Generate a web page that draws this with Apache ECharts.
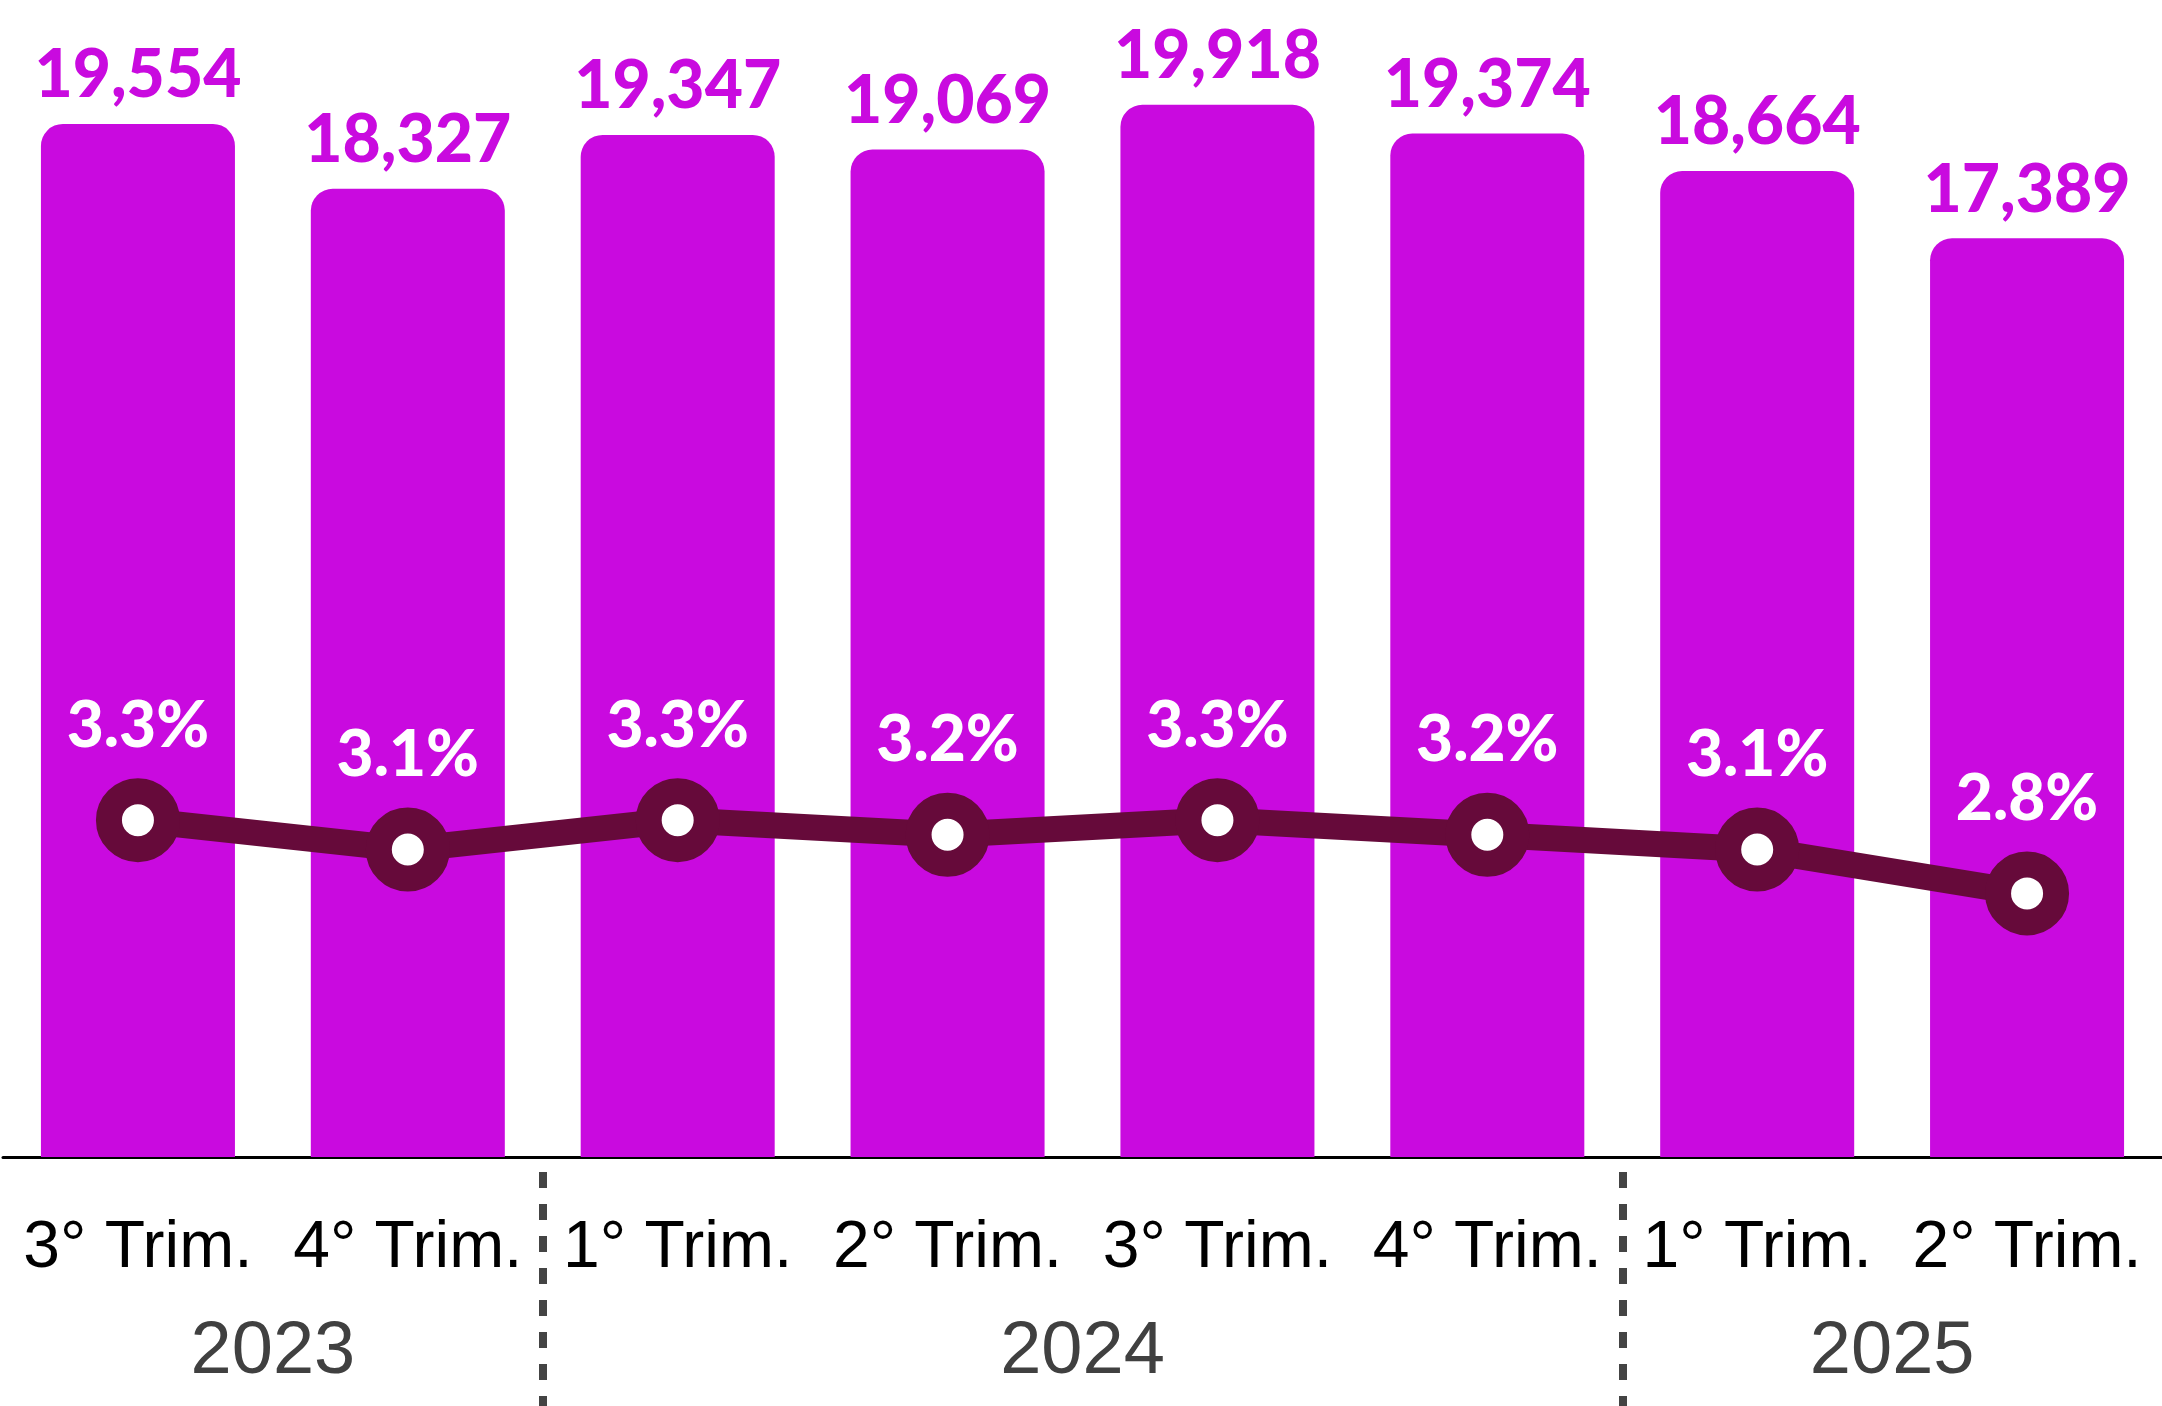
<!DOCTYPE html>
<html>
<head>
<meta charset="utf-8">
<style>
  html, body { margin: 0; padding: 0; background: #ffffff; }
  #chart { width: 2162px; height: 1406px; }
</style>
<script src="https://cdn.jsdelivr.net/npm/echarts@6/dist/echarts.min.js"></script>
</head>
<body>
<div id="chart"></div>
<script>
const quarters = ['3° Trim.', '4° Trim.', '1° Trim.', '2° Trim.', '3° Trim.', '4° Trim.', '1° Trim.', '2° Trim.'];
const barValues = [19554, 18327, 19347, 19069, 19918, 19374, 18664, 17389];
const rateValues = [3.3, 3.1, 3.3, 3.2, 3.3, 3.2, 3.1, 2.8];
const yearLabels = ['2023', '2024', '2025'];
const quartersPerYear = [2, 4, 2];

// derived: group centres and boundaries on a 0..N value scale
const yearCenters = [];
const yearBounds = [];
let acc = 0;
quartersPerYear.forEach(function (n, i) {
  yearCenters.push(acc + n / 2);
  acc += n;
  if (i < quartersPerYear.length - 1) yearBounds.push(acc);
});

const chart = echarts.init(document.getElementById('chart'), null, { renderer: 'canvas' });

const labelFont = 'Lato';
const option = {
  animation: false,
  backgroundColor: '#ffffff',
  grid: { left: 3, right: -6, top: 0, bottom: 249, containLabel: false },
  xAxis: [
    {
      type: 'category',
      data: quarters,
      position: 'bottom',
      axisLine: { show: true, lineStyle: { color: '#000000', width: 3 } },
      axisTick: { show: false },
      axisLabel: {
        color: '#000000',
        fontFamily: 'Liberation Sans',
        fontSize: 66,
        margin: 59,
        interval: 0
      }
    },
    {
      type: 'value',
      min: 0,
      max: quarters.length,
      position: 'bottom',
      offset: 15,
      axisLine: { show: false },
      splitLine: { show: false },
      axisTick: {
        show: true,
        customValues: yearBounds,
        length: 240,
        lineStyle: { color: '#444444', width: 8, type: [16, 16] }
      },
      axisLabel: {
        customValues: yearCenters,
        color: '#404040',
        fontFamily: 'Liberation Sans',
        fontSize: 74,
        margin: 144,
        formatter: function (v) {
          const idx = yearCenters.indexOf(v);
          return idx >= 0 ? yearLabels[idx] : '';
        }
      }
    }
  ],
  yAxis: [
    { type: 'value', min: 0, max: 21900, show: false, splitLine: { show: false } },
    { type: 'value', min: 1, max: 8.9, show: false, splitLine: { show: false } }
  ],
  series: [
    {
      type: 'bar',
      data: barValues,
      xAxisIndex: 0,
      yAxisIndex: 0,
      barWidth: 194,
      itemStyle: { color: '#C90ADF', borderRadius: [22, 22, 0, 0] },
      label: {
        show: true,
        position: 'top',
        distance: 15,
        color: '#C90ADF',
        fontFamily: labelFont,
        fontWeight: 900,
        fontSize: 66,
        formatter: function (p) { return p.value.toLocaleString('en-US'); }
      },
      z: 2
    },
    {
      type: 'line',
      data: rateValues,
      xAxisIndex: 0,
      yAxisIndex: 1,
      symbol: 'circle',
      symbolSize: 58,
      lineStyle: { color: '#660A3A', width: 26 },
      itemStyle: { color: '#ffffff', borderColor: '#660A3A', borderWidth: 26 },
      label: {
        show: true,
        position: 'top',
        distance: 20,
        color: '#ffffff',
        fontFamily: labelFont,
        fontWeight: 900,
        fontSize: 64,
        formatter: function (p) { return p.value.toFixed(1) + '%'; }
      },
      z: 5
    }
  ]
};

chart.setOption(option);
</script>
</body>
</html>
